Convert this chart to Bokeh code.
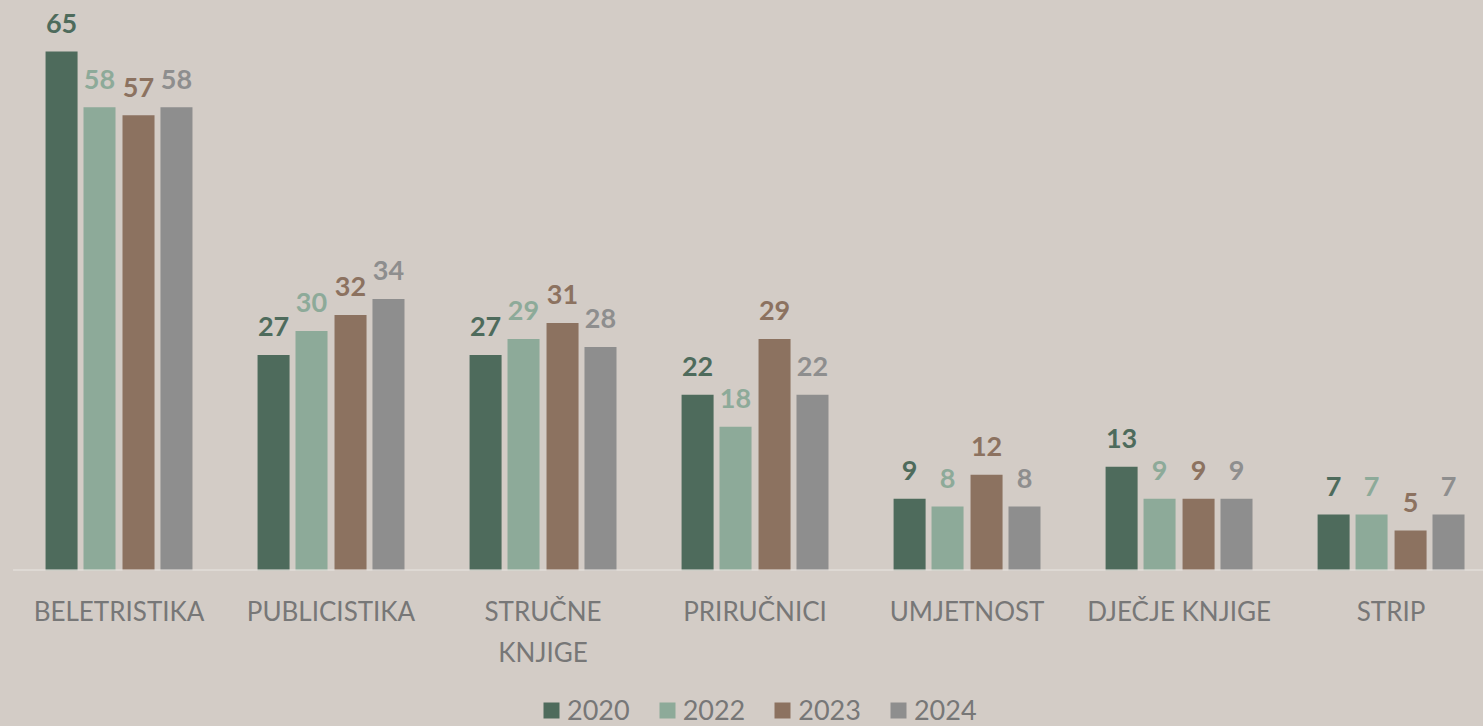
from bokeh.plotting import figure
from bokeh.layouts import column
from bokeh.models import Range1d, FixedTicker, Legend, LegendItem, ColumnDataSource
from bokeh.transform import dodge
from bokeh.core.properties import value
from bokeh.embed import file_html
from bokeh.resources import INLINE

categories = ["BELETRISTIKA", "PUBLICISTIKA", "STRUČNE\nKNJIGE", "PRIRUČNICI",
              "UMJETNOST", "DJEČJE KNJIGE", "STRIP"]
years = ["2020", "2022", "2023", "2024"]
v2020 = [65, 27, 27, 22, 9, 13, 7]
v2022 = [58, 30, 29, 18, 8, 9, 7]
v2023 = [57, 32, 31, 29, 12, 9, 5]
v2024 = [58, 34, 28, 22, 8, 9, 7]

series = [v2020, v2022, v2023, v2024]
colors = ["#4E6B5C", "#8DAA99", "#8C7260", "#8E8E8E"]
offsets = [-0.271, -0.092, 0.092, 0.271]
FONT = "Lato"
BG = "#D3CCC6"

idx = list(range(len(categories)))
data = {"x": idx}
for y, s in zip(years, series):
    data["v" + y] = s
    data["t" + y] = [str(v) for v in s]
src = ColumnDataSource(data)

p = figure(width=1483, height=694, output_backend="svg", toolbar_location=None,
           x_range=Range1d(-0.559, 6.436), y_range=Range1d(0, 71.38),
           min_border_left=0, min_border_right=0, min_border_top=0, min_border_bottom=124)
p.background_fill_color = BG
p.border_fill_color = BG
p.outline_line_color = None
p.grid.visible = False
p.yaxis.visible = False

for y, c, off in zip(years, colors, offsets):
    p.vbar(x=dodge("x", off), top="v" + y, width=0.151, source=src,
           fill_color=c, line_color=None)
    p.text(x=dodge("x", off), y="v" + y, text="t" + y, source=src,
           text_align="center", text_baseline="alphabetic", y_offset=-28,
           text_font=value(FONT), text_font_style="bold", text_font_size="27px",
           text_color=c)

p.segment(x0=[-0.5], y0=[0], x1=[6.44], y1=[0], line_color="#E9E5E1", line_width=2)

ax = p.xaxis[0]
ax.ticker = FixedTicker(ticks=idx)
ax.major_label_overrides = {i: c for i, c in enumerate(categories)}
ax.axis_line_color = None
ax.major_tick_line_color = None
ax.minor_tick_line_color = None
ax.major_label_standoff = 18
ax.major_label_text_font = FONT
ax.major_label_text_font_size = "26px"
ax.major_label_text_color = "#777777"
ax.major_label_text_line_height = 1.3

# legend strip below the chart
lg = figure(width=1483, height=32, output_backend="svg", toolbar_location=None,
            x_range=Range1d(0, 1), y_range=Range1d(0, 1),
            x_axis_location=None, y_axis_location=None,
            min_border_left=0, min_border_right=0, min_border_top=0, min_border_bottom=0)
lg.background_fill_color = BG
lg.border_fill_color = BG
lg.outline_line_color = None
lg.grid.visible = False
items = []
for y, c in zip(years, colors):
    r = lg.vbar(x=[5], top=[5], width=0.1, fill_color=c, line_color=None)
    items.append(LegendItem(label=y, renderers=[r]))
legend = Legend(items=items, orientation="horizontal", location=(541, 0),
                glyph_width=20, glyph_height=20, label_text_font=FONT,
                label_text_font_size="27px", label_text_color="#777777",
                label_standoff=6, spacing=27, padding=0, margin=0,
                background_fill_alpha=0, border_line_alpha=0)
lg.add_layout(legend, "center")

layout = column(p, lg, spacing=0, styles={"background-color": BG})
open("out.html", "w").write(file_html(layout, INLINE))
